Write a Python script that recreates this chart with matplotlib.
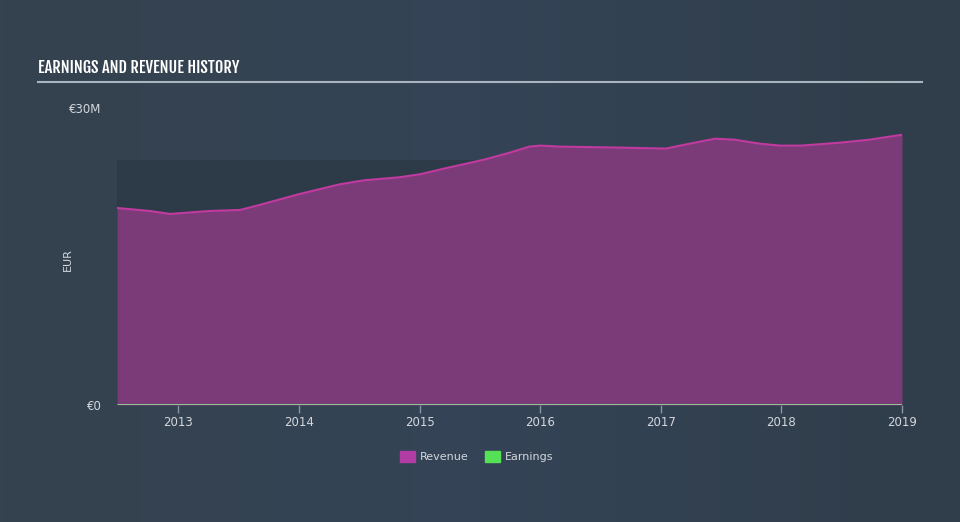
import matplotlib
matplotlib.use("Agg")
import matplotlib.pyplot as plt
import numpy as np
from matplotlib.patches import Rectangle
from matplotlib.lines import Line2D
from matplotlib.colors import LinearSegmentedColormap
from matplotlib import font_manager

years = [2012.49, 2012.76, 2012.93, 2013.26, 2013.51, 2013.67, 2014.0, 2014.17, 2014.34,
         2014.54, 2014.83, 2015.0, 2015.21, 2015.54, 2015.75, 2015.91, 2016.0, 2016.16,
         2016.66, 2017.04, 2017.24, 2017.45, 2017.61, 2017.82, 2017.99, 2018.16, 2018.49,
         2018.73, 2019.0]
revenue = [19.9, 19.6, 19.3, 19.6, 19.7, 20.2, 21.3, 21.8, 22.3,
           22.7, 23.0, 23.3, 23.9, 24.8, 25.5, 26.1, 26.2, 26.1,
           26.0, 25.9, 26.4, 26.9, 26.8, 26.4, 26.2, 26.2, 26.5,
           26.8, 27.3]
earnings = [0.0] * len(years)
band_top = 24.75
tick_years = [2013, 2014, 2015, 2016, 2017, 2018, 2019]
tick_labels = ["2013", "2014", "2015", "2016", "2017", "2018", "2019"]

names = {f.name for f in font_manager.fontManager.ttflist}
def pick(prefs, default="DejaVu Sans"):
    for p in prefs:
        if p in names:
            return p
    return default

title_family = pick(["Fjalla One", "Oswald", "Roboto Condensed", "Archivo Narrow", "Asap Condensed"])
body_family = "DejaVu Sans"

W, H = 960, 522
fig = plt.figure(figsize=(9.6, 5.22), dpi=100)
bg = fig.add_axes([0, 0, 1, 1])
bg.set_axis_off()
grad = np.linspace(0, 1, 256).reshape(1, -1)
cmap = LinearSegmentedColormap.from_list("bg", ["#35424f", "#344456", "#303d4a"])
bg.imshow(grad, aspect="auto", cmap=cmap, extent=[0, 1, 0, 1])
bg.set_xlim(0, 1); bg.set_ylim(0, 1)

left, right = 117 / W, 902 / W
bottom, top = (H - 405) / H, (H - 108) / H
ax = fig.add_axes([left, bottom, right - left, top - bottom])
ax.set_facecolor("none")
ax.set_xlim(2012.49, 2019.0)
ax.set_ylim(0, 30)

ax.axhspan(0, band_top, color="#2c3a48", alpha=0.85, zorder=0, lw=0)
ax.fill_between(years, revenue, 0, color="#7b3a78", zorder=2, lw=0)
ax.plot(years, revenue, color="#c13aa0", lw=1.5, zorder=3)
ax.plot(years, earnings, color="#8fd88f", lw=2, zorder=4, solid_capstyle="butt")

for s in ax.spines.values():
    s.set_visible(False)
ax.set_xticks(tick_years)
ax.set_xticklabels(tick_labels, family=body_family)
ax.tick_params(axis="x", colors="#8a96a3", length=6, width=1, labelcolor="#d4d8dd",
               labelsize=8.5, pad=2)
ax.set_yticks([0, 30])
ax.set_yticklabels(["€0", "€30M"], family=body_family)
ax.tick_params(axis="y", length=0, labelcolor="#d4d8dd", labelsize=8.5, pad=11)
fig.text(68 / W, 1 - 260 / H, "EUR", color="#d4d8dd", fontsize=8, rotation=90,
         ha="center", va="center", family=body_family)

fig.text(38 / W, 1 - 68 / H, "EARNINGS AND REVENUE HISTORY", color="white",
         fontsize=11.8, fontweight="bold", family=title_family, va="center", ha="left")
fig.add_artist(Line2D([38 / W, 922 / W], [1 - 82 / H, 1 - 82 / H], color="#aab4be", lw=1.5))

# legend
fig.add_artist(Rectangle((400 / W, 1 - 462 / H), 15 / W, 11 / H, color="#b13ca3"))
fig.text(420 / W, 1 - 456.5 / H, "Revenue", color="#d4d8dd", fontsize=8, va="center",
         family=body_family)
fig.add_artist(Rectangle((485 / W, 1 - 462 / H), 15 / W, 11 / H, color="#55e055"))
fig.text(505 / W, 1 - 456.5 / H, "Earnings", color="#d4d8dd", fontsize=8, va="center",
         family=body_family)

fig.savefig("out.png", dpi=100)
